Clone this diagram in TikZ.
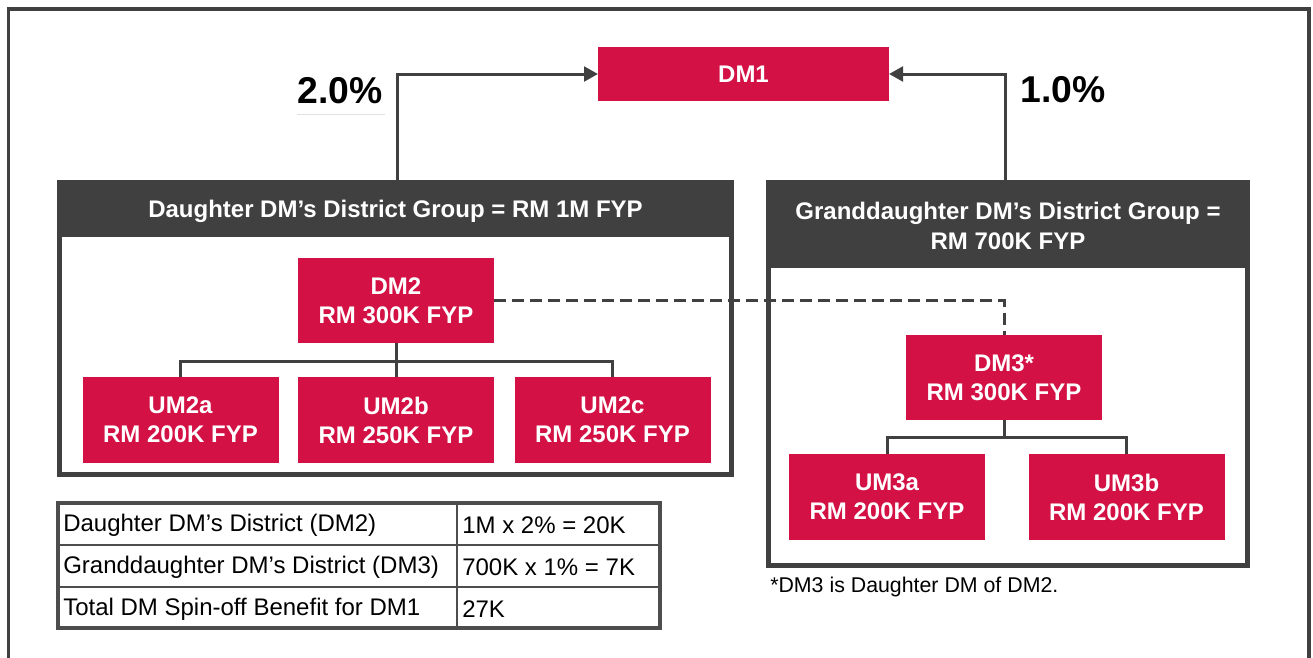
\documentclass[tikz,border=0pt]{standalone}
\usepackage{fontspec}
\setmainfont{Liberation Sans}
\usetikzlibrary{arrows.meta}
\definecolor{aiared}{HTML}{D31145}
\definecolor{dk}{HTML}{404040}
\definecolor{tblgray}{HTML}{4D4D4D}
\begin{document}
\begin{tikzpicture}[x=0.75pt,y=-0.75pt,
  redbox/.style={fill=aiared,text=white,font=\fontsize{18}{21.75}\selectfont\bfseries,align=center,inner sep=0pt,outer sep=0pt,minimum width=147pt,minimum height=64pt},
  tree/.style={draw=dk,line width=2.25pt},
  arr/.style={draw=dk,line width=2.25pt,-{Triangle[length=10.5pt,width=11pt]}},
  hdr/.style={text=white,font=\fontsize{18}{22.5}\selectfont\bfseries,align=center},
  pct/.style={font=\fontsize{28}{32}\selectfont\bfseries},
  tbl/.style={font=\fontsize{18}{21}\selectfont,anchor=west,inner sep=0pt}]
\useasboundingbox (0,0) rectangle (1313,657);
% outer frame
\draw[dk,line width=2.5pt] (8.5,9) rectangle (1309,680);

% DM1
\node[redbox,minimum width=218.25pt,minimum height=40.5pt] (dm1) at (743.5,74) {DM1};

% left group
\fill[dk] (57,180) rectangle (734,237);
\draw[dk,line width=3.75pt] (59.5,182.5) rectangle (731.5,474.5);
\node[hdr] (lhdr) at (395.5,211) {Daughter DM’s District Group = RM 1M FYP};

% right group
\fill[dk] (766,180) rectangle (1250,268);
\draw[dk,line width=3.75pt] (768.5,182.5) rectangle (1247,565.5);
\node[hdr] (rhdr) at (1008,226) {Granddaughter DM’s District Group =\\RM 700K FYP};

% arrows to DM1
\coordinate (la) at (397,180);
\coordinate (ra) at (1005,180);
\draw[arr] (la) |- (dm1.west);
\draw[arr] (ra) |- (dm1.east);
\node[pct] (p2) at (340,91) {2.0\%};
\draw[draw={rgb,255:red,225;green,225;blue,225},line width=0.75pt] (297,114) -- (385,114);
\node[pct] (p1) at (1063,90) {1.0\%};

% boxes
\node[redbox] (dm2) at (396,300.5) {DM2\\RM 300K FYP};
\node[redbox] (um2a) at (180.5,420) {UM2a\\RM 200K FYP};
\node[redbox] (um2b) at (396,420) {UM2b\\RM 250K FYP};
\node[redbox] (um2c) at (612.5,420) {UM2c\\RM 250K FYP};
\node[redbox] (dm3) at (1004,377.5) {DM3*\\RM 300K FYP};
\node[redbox] (um3a) at (887,497) {UM3a\\RM 200K FYP};
\node[redbox] (um3b) at (1126.5,497) {UM3b\\RM 200K FYP};

% trees
\coordinate (j2) at (396,361);
\draw[tree] (dm2.south) -- (j2);
\draw[tree] (j2) -| (um2a.north);
\draw[tree] (j2) -| (um2c.north);
\draw[tree] (j2) -- (um2b.north);
\coordinate (j3) at (1004,437);
\draw[tree] (dm3.south) -- (j3);
\draw[tree] (j3) -| (um3a.north);
\draw[tree] (j3) -| (um3b.north);

% dashed link
\draw[dk,line width=2.25pt,dash pattern=on 9pt off 4.5pt] (dm2.east) -| (dm3.north);

% note
\node[anchor=west,inner sep=0pt,font=\fontsize{16}{19}\selectfont] (note) at (770,587) {*DM3 is Daughter DM of DM2.};

% table
\draw[tblgray,line width=1.9pt] (58,545) -- (660,545) (58,587) -- (660,587) (457,503) -- (457,628);
\draw[tblgray,line width=2.8pt] (58,503) rectangle (660,628);
\node[tbl] (t11) at (63,525) {Daughter DM’s District (DM2)};
\node[tbl] (t12) at (462,525) {1M x 2\% = 20K};
\node[tbl] (t21) at (63,567) {Granddaughter DM’s District (DM3)};
\node[tbl] (t22) at (462,567) {700K x 1\% = 7K};
\node[tbl] (t31) at (63,609) {Total DM Spin-off Benefit for DM1};
\node[tbl] (t32) at (462,609) {27K};
\end{tikzpicture}
\end{document}
